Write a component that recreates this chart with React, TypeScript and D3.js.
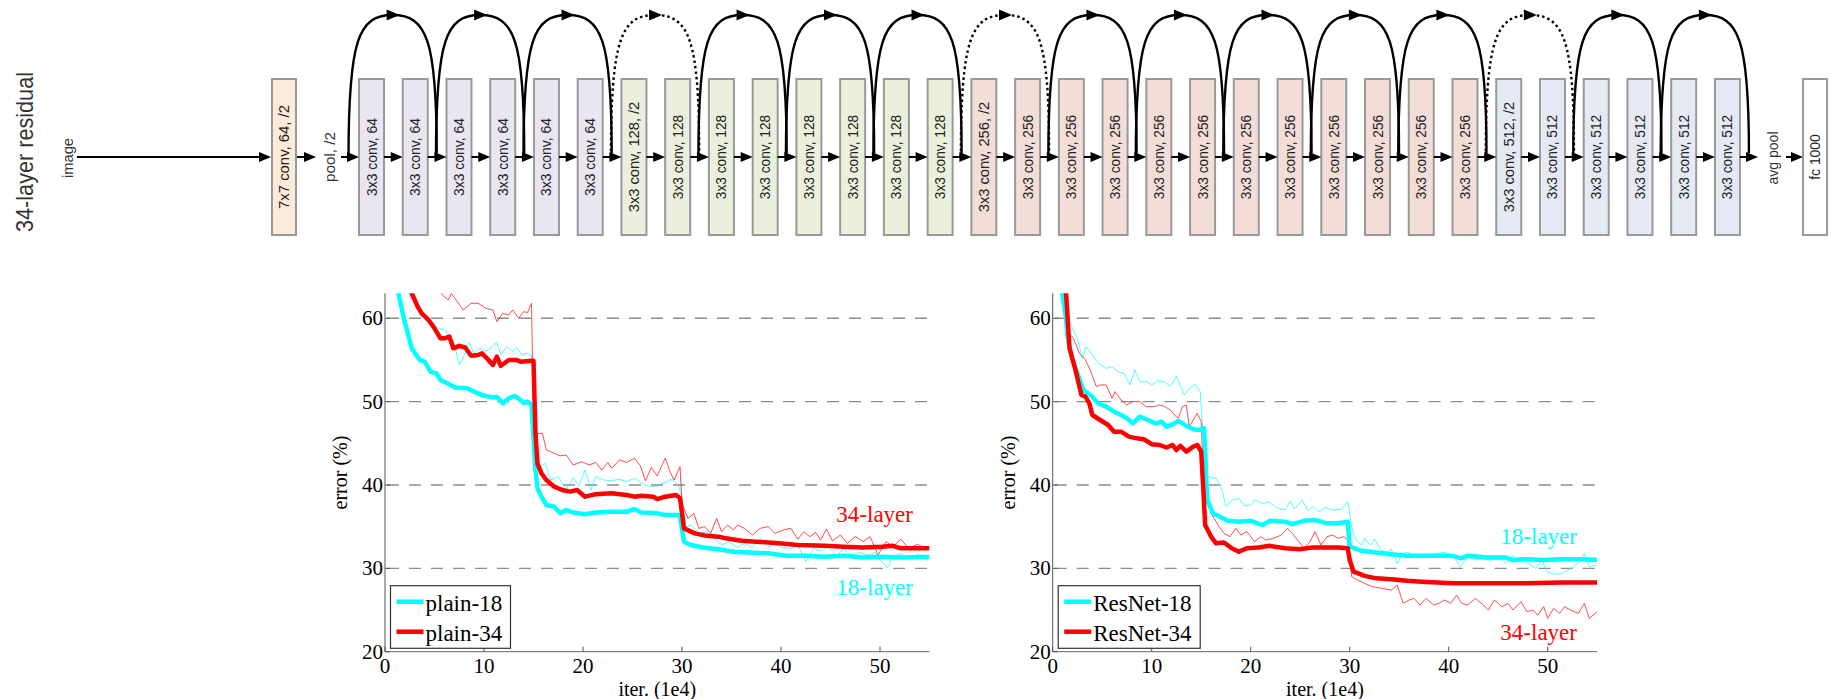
import React from "react";
import * as d3 from "d3";

// ---- network diagram (34-layer residual) ----
const stageFilters = [64, 128, 256, 512];
const stageBlocks = [3, 4, 6, 3]; // residual blocks per stage, 2 convs each
const stageFills = ["#e9e5f1", "#ebf0dc", "#f2ddd7", "#e4e9f4"];

// ---- training curves: x = iter. (1e4), y = error (%) ----
// left panel: plain nets
const plain18Train: [number, number][] = [
  [2.2, 64], [2.5, 62.6], [3.1, 62], [3.8, 60.2], [4.4, 59.4], [5.4, 58.8], [6.0, 58.6], [6.4, 58],
  [6.9, 57.4], [7.5, 54.4], [8.1, 55.8], [8.5, 57.1], [9.0, 55.8], [9.6, 56.4], [10.2, 56], [10.8, 56.6],
  [11.3, 57.1], [11.7, 55.6], [12.3, 56.6], [12.9, 56], [13.3, 56.5], [13.8, 55.6], [14.4, 55.8], [14.8, 55.5],
  [15.0, 50.6], [15.2, 44.2], [15.6, 42.2], [16.2, 42.6], [16.7, 40.6], [17.5, 41], [18.3, 39.4], [19.0, 40.9],
  [19.6, 39.9], [20.2, 41.8], [20.8, 39.4], [21.3, 41], [22.1, 40.6], [22.9, 40.5], [23.7, 40.7], [24.4, 40.4],
  [25.2, 40.8], [26.0, 40.2], [26.7, 39.8], [27.5, 39.9], [28.3, 40.3], [29.0, 40.7], [29.6, 40], [30.0, 38.6],
  [30.4, 35], [30.9, 35.2], [31.7, 34.2], [32.5, 34.4], [33.3, 33.6], [34.0, 32.8], [34.8, 33.2], [35.6, 32.5],
  [36.3, 33], [37.1, 32.5], [37.9, 33.6], [38.7, 32.6], [39.4, 32.9], [40.2, 32.5], [41.0, 32.4], [41.7, 32.8],
  [42.5, 30.8], [43.3, 32.4], [44.0, 32.1], [44.8, 32.6], [45.6, 31.4], [46.3, 32.4], [47.1, 31.5], [47.9, 31.9],
  [48.7, 31.6], [49.5, 31.9], [50.0, 31], [50.8, 30.1], [51.3, 31.4], [52.1, 31.8], [52.9, 31.1], [53.8, 31.7],
  [54.7, 31], [55, 31.2],
];
const plain34Train: [number, number][] = [
  [5.5, 64], [5.8, 62.8], [6.4, 62.2], [6.7, 63], [7.3, 62], [7.9, 61], [8.7, 61.8], [9.4, 61.8],
  [10.2, 61.2], [10.9, 61], [11.3, 59.6], [11.9, 60.6], [12.5, 60.4], [12.9, 61], [13.5, 60], [14.0, 60.8],
  [14.4, 60.7], [14.8, 61.8], [15.0, 48.2], [15.2, 46.2], [15.9, 46.2], [16.3, 44.2], [17.1, 43.8], [17.7, 43.5],
  [18.3, 43.6], [19.0, 42.4], [19.9, 42.8], [20.6, 42.4], [21.3, 42.7], [21.9, 41.8], [22.5, 42.7], [22.9, 42],
  [23.7, 43], [24.4, 42.7], [25.2, 43.2], [25.8, 42.3], [26.3, 40.5], [26.9, 42.1], [27.5, 41.1], [28.3, 43.2],
  [28.8, 41.6], [29.2, 40.6], [29.8, 42.2], [30.0, 37.8], [30.6, 36], [31.2, 36.6], [31.7, 34.8], [32.3, 35],
  [32.9, 34.2], [33.5, 36], [34.0, 34.4], [34.6, 35.2], [35.2, 34.6], [35.6, 35.2], [36.3, 34.8], [37.1, 34],
  [37.9, 34.8], [38.7, 35], [39.4, 34.2], [40.2, 34.6], [41.0, 34.8], [41.7, 33.5], [42.3, 34.4], [42.9, 33.8],
  [43.5, 34.3], [44.0, 33.4], [44.6, 34.7], [45.2, 33.3], [46.0, 34], [46.7, 33], [47.5, 33.8], [48.3, 33.2],
  [49.0, 33.8], [49.8, 31.6], [50.6, 33.2], [51.3, 32.6], [52.1, 33.5], [52.9, 32.4], [53.8, 32.9], [54.7, 32.3],
  [55, 32.6],
];
const plain18Val: [number, number][] = [
  [1.0, 66], [1.35, 63], [1.9, 60], [2.7, 56.4], [3.5, 55], [4.0, 54.8], [4.6, 53.6], [5.2, 53.4],
  [5.6, 52.6], [6.3, 52.2], [7.1, 51.7], [8.3, 51.6], [9.0, 51.2], [10, 50.7], [11, 50.5], [11.3, 50.6],
  [11.9, 49.8], [12.5, 50.4], [13.1, 50.7], [13.7, 50.2], [14.0, 49.8], [14.4, 50], [14.8, 49.6], [15.2, 41.8],
  [15.4, 39.6], [15.8, 38.6], [16.3, 37.6], [17.1, 37.4], [17.7, 36.6], [18.3, 37], [19.0, 36.7], [20.2, 36.5],
  [21.3, 36.7], [22.9, 36.8], [24.4, 36.8], [25.2, 37.1], [25.9, 36.7], [27.5, 36.6], [28.3, 36.4], [29.6, 36.4],
  [29.8, 36.2], [30.2, 33.2], [30.9, 32.8], [32.1, 32.5], [33.7, 32.3], [35.2, 32], [36.7, 31.9], [38.7, 31.8],
  [40.6, 31.5], [42.5, 31.5], [44.4, 31.4], [46.3, 31.5], [48.3, 31.3], [50.2, 31.4], [52.1, 31.3], [55, 31.4],
];
const plain34Val: [number, number][] = [
  [2.4, 66], [2.7, 63], [3.3, 61.4], [3.7, 60.6], [4.4, 59.8], [5.0, 58.8], [5.6, 57.6], [6.0, 57.6],
  [6.5, 57.8], [6.9, 56.4], [7.5, 56.7], [8.1, 56.5], [8.7, 55.5], [9.4, 55.6], [9.8, 55.8], [10.6, 54.8],
  [10.9, 54.4], [11.3, 55.4], [11.7, 54.3], [12.5, 55], [13.3, 55], [13.7, 54.8], [14.8, 54.9], [15.0, 54.9],
  [15.2, 46.2], [15.4, 42.6], [15.8, 41.4], [16.3, 40.6], [17.1, 39.8], [17.9, 39.4], [18.7, 39.2], [19.4, 39.4],
  [20.2, 38.6], [21.3, 38.9], [22.9, 39], [24.4, 38.8], [25.2, 38.6], [25.9, 38.7], [27.1, 38.6], [27.5, 38.3],
  [28.3, 38.6], [29.4, 38.8], [29.8, 38.4], [30.2, 34.8], [31.3, 34.2], [32.5, 33.9], [33.7, 33.8], [34.4, 33.6],
  [36.0, 33.3], [37.5, 33.2], [39.8, 33], [41.7, 32.8], [44.4, 32.7], [46.3, 32.6], [48.3, 32.5], [50.2, 32.6],
  [51.3, 32.7], [52.1, 32.4], [55, 32.4],
];

// right panel: residual nets
const resnet18Train: [number, number][] = [
  [0.7, 64], [1.0, 62], [1.5, 60], [2.0, 58.8], [2.5, 57.5], [3.0, 55.2], [3.4, 56.6], [4.0, 55.6],
  [4.6, 54.6], [5.4, 54], [6.0, 54.2], [6.6, 53.6], [7.2, 53.4], [7.8, 52], [8.3, 53.8], [8.8, 52.4],
  [9.5, 52.4], [10.0, 52], [10.6, 52.5], [11.3, 52.4], [11.9, 51.8], [12.5, 53], [13.3, 50.8], [13.8, 51.6],
  [14.4, 52.1], [14.9, 51.2], [15.2, 46], [15.6, 41], [16.5, 40.8], [17.1, 39.4], [17.5, 37.4], [18.1, 38.2],
  [18.8, 38.4], [19.4, 37.5], [20.0, 37.6], [20.4, 38.2], [21.2, 37.8], [21.9, 38], [22.7, 37.2], [23.5, 37],
  [24.0, 38.1], [24.4, 37.1], [25.2, 38.2], [25.8, 36.9], [26.3, 37.4], [26.9, 36.8], [27.5, 37.3], [28.3, 37],
  [29.2, 37.1], [29.8, 38], [30.2, 35], [30.6, 33.4], [31.2, 32.8], [31.5, 33.6], [32.1, 32.8], [32.5, 33.5],
  [33.1, 32.3], [33.7, 31.8], [34.2, 32.3], [34.8, 30.6], [35.4, 31.8], [36.0, 31.9], [36.5, 31.4], [37.3, 31.7],
  [38.1, 31.5], [38.8, 31.8], [39.6, 31.9], [40.4, 31.5], [41.2, 30.2], [41.9, 31.4], [42.7, 31], [43.5, 31.3],
  [44.2, 30.9], [45.0, 31.4], [45.8, 30.6], [46.5, 31.5], [47.3, 30.8], [48.1, 30.6], [48.8, 30], [49.4, 31],
  [50.0, 29.5], [50.8, 29.3], [51.5, 29.4], [52.3, 30], [53.1, 30.6], [53.7, 31.8], [54.2, 30.2], [55, 30.4],
];
const resnet34Train: [number, number][] = [
  [1.0, 64], [1.15, 63], [1.5, 58.4], [2.1, 57.6], [2.7, 55.8], [3.3, 55], [3.8, 53.8], [4.4, 51.8],
  [4.8, 52], [5.4, 52], [6.0, 50.4], [6.3, 51.2], [6.9, 50.2], [7.5, 49.6], [8.1, 50], [8.8, 50],
  [9.4, 49.4], [10.2, 49.4], [10.8, 49.6], [11.3, 49.4], [11.9, 49], [12.3, 48.4], [12.7, 48], [13.1, 49.4],
  [13.5, 49.6], [13.8, 47], [14.2, 47.8], [14.6, 48.6], [15.0, 47.6], [15.2, 41.8], [15.6, 37.8], [16.2, 36.2],
  [16.7, 35.2], [17.3, 34.2], [17.9, 33.8], [18.5, 34.8], [19.0, 34], [19.6, 34.4], [20.4, 33.2], [21.0, 33.8],
  [21.5, 33.4], [22.3, 33.6], [23.1, 34], [23.7, 34.8], [24.2, 34.2], [24.8, 33.3], [25.4, 32.4], [26.0, 33.2],
  [26.5, 34.4], [27.1, 32.8], [27.7, 33.8], [28.3, 34], [28.8, 33.6], [29.4, 33.8], [29.8, 33.4], [30.2, 29],
  [30.8, 28.6], [31.5, 28.2], [32.3, 27.8], [33.3, 27.6], [34.2, 27.4], [34.8, 28], [35.4, 25.8], [36.0, 26.2],
  [36.5, 26.4], [37.1, 25.6], [37.7, 26.4], [38.5, 25.6], [39.0, 25.8], [39.6, 26.2], [40.2, 25.8], [40.8, 26.8],
  [41.3, 25.8], [41.9, 25.6], [42.7, 26.4], [43.5, 25.6], [44.0, 25], [44.6, 26.2], [45.4, 25.4], [46.0, 25.8],
  [46.5, 25], [47.3, 26], [47.9, 24.8], [48.5, 25], [49.0, 24.4], [49.6, 25.4], [50.0, 24], [50.6, 25.2],
  [51.2, 24.6], [51.7, 25.4], [52.3, 25], [53.1, 24.6], [53.7, 25.8], [54.2, 24], [55, 24.8],
];
const resnet18Val: [number, number][] = [
  [0.7, 66], [0.96, 63], [1.35, 60], [1.5, 57.8], [1.9, 55.4], [2.5, 53.4], [3.1, 51.4], [3.8, 50.8],
  [4.6, 49.8], [5.4, 49.4], [6.2, 48.8], [6.9, 48.4], [7.5, 48], [8.1, 47.4], [8.8, 48.2], [9.6, 47.8],
  [10.4, 47.4], [11.0, 47.6], [11.5, 47], [12.3, 47.4], [12.7, 47.7], [13.5, 47.1], [14.2, 46.7], [14.8, 46.6],
  [15.3, 46.8], [15.6, 38.2], [16.2, 36.6], [16.9, 36.2], [17.7, 35.7], [18.8, 35.6], [20, 35.7], [21.2, 35.2],
  [21.9, 35.7], [23.5, 35.6], [24.2, 35.3], [25.4, 35.7], [26.5, 35.8], [27.7, 35.4], [28.8, 35.4], [29.8, 35.6],
  [30.0, 32.6], [31.2, 32.1], [32.7, 31.9], [34.2, 31.7], [35.8, 31.5], [37.3, 31.5], [38.8, 31.5], [40.4, 31.5],
  [41.2, 31.2], [41.9, 31.5], [43.8, 31.3], [45.8, 31.3], [46.5, 31], [47.7, 31.1], [49.6, 31], [51.5, 31.1],
  [53.5, 31.1], [55, 31],
];
const resnet34Val: [number, number][] = [
  [1.1, 66], [1.35, 63], [1.7, 56.4], [2.3, 53.8], [2.9, 50.8], [3.3, 50.6], [3.7, 49.8], [4.0, 48.4],
  [4.8, 47.8], [5.6, 47.2], [6.2, 46.4], [6.9, 46.4], [7.7, 45.8], [8.5, 45.6], [9.2, 45.5], [10.0, 44.9],
  [10.8, 44.8], [11.5, 44.5], [12.1, 44.8], [12.5, 44.2], [12.9, 44.7], [13.5, 44], [14.2, 44.6], [14.6, 44.8],
  [15.0, 44], [15.2, 39.8], [15.4, 35.2], [16.0, 33.8], [16.5, 33], [17.3, 33.1], [18.1, 32.4], [18.8, 32],
  [19.6, 32.4], [20.8, 32.5], [21.9, 32.7], [23.5, 32.4], [25.0, 32.3], [26.2, 32.5], [27.7, 32.5], [28.8, 32.5],
  [29.8, 32.4], [30.0, 31], [30.4, 29.6], [31.5, 29.1], [32.7, 28.8], [34.2, 28.7], [35.8, 28.5], [37.3, 28.4],
  [38.8, 28.3], [40.4, 28.2], [43.8, 28.2], [47.7, 28.2], [51.5, 28.3], [55, 28.3],
];

const xTicks = [0, 10, 20, 30, 40, 50];
const yTicks = [20, 30, 40, 50, 60];
const xDomain: [number, number] = [0, 55];
const yDomain: [number, number] = [20, 63];

const CYAN = "#00ffff";
const RED = "#ff0000";
const SERIF = "'Liberation Serif', 'Times New Roman', serif";
const SANS = "'Liberation Sans', Arial, sans-serif";

const BOX_Y = 79;
const BOX_H = 156;
const MID_Y = 157;

const Arrow = ({ x1, x2 }: { x1: number; x2: number }) => (
  <g>
    <line x1={x1} y1={MID_Y} x2={x2 - 8} y2={MID_Y} stroke="#000" strokeWidth={2} />
    <polygon points={`${x2},${MID_Y} ${x2 - 12},${MID_Y - 5} ${x2 - 12},${MID_Y + 5}`} fill="#000" />
  </g>
);

// vertical label; the length is fixed so it fills the box like the original
const RotText = ({ x, y, t, size, len, color = "#222" }: { x: number; y: number; t: string; size: number; len: number; color?: string }) => (
  <text
    transform={`translate(${x},${y}) rotate(-90)`}
    textAnchor="middle"
    dominantBaseline="central"
    fontFamily={SANS}
    fontSize={size}
    textLength={len}
    lengthAdjust="spacingAndGlyphs"
    fill={color}
  >
    {t}
  </text>
);

const Box = ({ x, w, fill, label }: { x: number; w: number; fill: string; label: string }) => (
  <g>
    <rect x={x} y={BOX_Y} width={w} height={BOX_H} fill={fill} stroke="#999" strokeWidth={2} />
    <RotText x={x + w / 2} y={MID_Y} t={label} size={14} len={label.length * 6.5} />
  </g>
);

const Diagram = () => {
  const convs: { label: string; fill: string }[] = [];
  stageFilters.forEach((f, s) => {
    for (let i = 0; i < stageBlocks[s] * 2; i++) {
      const down = s > 0 && i === 0;
      convs.push({ label: `3x3 conv, ${f}${down ? ", /2" : ""}`, fill: stageFills[s] });
    }
  });
  const x0 = 359;
  const pitch = 43.74;
  const bw = 25;
  const bx = (i: number) => x0 + i * pitch;
  const lastEnd = bx(convs.length - 1) + bw;

  // shortcut arcs that change dimension are dotted
  const dotted = new Set<number>();
  let acc = 0;
  stageBlocks.forEach((b, s) => {
    if (s > 0) dotted.add(acc);
    acc += b;
  });
  const nPairs = acc;

  return (
    <g>
      <RotText x={24} y={152} t="34-layer residual" size={24} len={160} color="#333" />
      <RotText x={68} y={158} t="image" size={14} len={40} color="#333" />
      <Arrow x1={77} x2={271} />
      <Box x={272} w={24} fill="#fcebd9" label="7x7 conv, 64, /2" />
      <Arrow x1={297} x2={316} />
      <RotText x={330} y={157} t="pool, /2" size={14} len={50} color="#333" />
      <Arrow x1={341} x2={x0} />
      {convs.map((c, i) => (
        <Box key={i} x={bx(i)} w={bw} fill={c.fill} label={c.label} />
      ))}
      {convs.slice(1).map((_, i) => (
        <Arrow key={i} x1={bx(i) + bw} x2={bx(i + 1)} />
      ))}
      <Arrow x1={lastEnd} x2={1758} />
      <RotText x={1773} y={158} t="avg pool" size={14} len={53} color="#333" />
      <Arrow x1={1786} x2={1803} />
      <Box x={1803} w={24} fill="#ffffff" label="fc 1000" />
      {d3.range(nPairs).map((k) => {
        const a = bx(2 * k) - 10.5;
        const b = bx(2 * k + 1) + bw + 9;
        const m = (a + b) / 2;
        const top = 15;
        const p = `M${a},${MID_Y} C${a},40 ${a + 10},${top} ${m},${top} C${b - 10},${top} ${b},40 ${b},${MID_Y - 4}`;
        return (
          <g key={k}>
            <path
              d={p}
              fill="none"
              stroke="#000"
              strokeWidth={2.4}
              strokeDasharray={dotted.has(k) ? "2.5,3" : undefined}
            />
            <polygon points={`${m + 7},${top} ${m - 6},${top - 5.5} ${m - 6},${top + 5.5}`} fill="#000" />
          </g>
        );
      })}
    </g>
  );
};

type Series = { data: [number, number][]; color: string; width: number; opacity: number };

const Panel = ({
  id,
  x0,
  series,
  legend,
  legendW,
  notes,
}: {
  id: string;
  x0: number;
  series: Series[];
  legend: { name: string; color: string }[];
  legendW: number;
  notes: { text: string; color: string; x: number; y: number }[];
}) => {
  const x = d3.scaleLinear().domain(xDomain).range([x0, x0 + 544.5]);
  const y = d3.scaleLinear().domain(yDomain).range([651.7, 293.3]);
  const line = d3
    .line<[number, number]>()
    .x((d) => x(d[0]))
    .y((d) => y(d[1]));
  const [xl, xr] = x.range();
  const [yb, yt] = y.range();
  const lx = xl + 5.5;
  const ly = 585.7;

  return (
    <g>
      <defs>
        <clipPath id={id}>
          <rect x={xl} y={yt} width={xr - xl} height={yb - yt} />
        </clipPath>
      </defs>
      {yTicks
        .filter((v) => v > 20)
        .map((v) => (
          <line
            key={v}
            x1={xl + 2}
            x2={xr}
            y1={y(v)}
            y2={y(v)}
            stroke="#8c8c8c"
            strokeWidth={1.4}
            strokeDasharray="12,10"
          />
        ))}
      <line x1={xl} x2={xr} y1={yb} y2={yb} stroke="#666" strokeWidth={1} />
      <line x1={xl} x2={xl} y1={yt} y2={yb} stroke="#555" strokeWidth={1} />
      {xTicks.map((v) => (
        <g key={v}>
          <line x1={x(v)} x2={x(v)} y1={yb} y2={yb - 5} stroke="#555" />
          <text x={x(v)} y={673} textAnchor="middle" fontFamily={SERIF} fontSize={21} fill="#000">
            {v}
          </text>
        </g>
      ))}
      {yTicks.map((v) => (
        <g key={v}>
          <line x1={xl} x2={xl + 5} y1={y(v)} y2={y(v)} stroke="#555" />
          <text x={xl - 2} y={y(v) + 7} textAnchor="end" fontFamily={SERIF} fontSize={21} fill="#000">
            {v}
          </text>
        </g>
      ))}
      <text x={(xl + xr) / 2} y={696} textAnchor="middle" fontFamily={SERIF} fontSize={20} fill="#000">
        iter. (1e4)
      </text>
      <text
        transform={`translate(${xl - 38},${(yt + yb) / 2}) rotate(-90)`}
        textAnchor="middle"
        fontFamily={SERIF}
        fontSize={20}
        fill="#000"
      >
        error (%)
      </text>
      <g clipPath={`url(#${id})`}>
        {series.map((s, i) => (
          <path
            key={i}
            d={line(s.data) || ""}
            fill="none"
            stroke={s.color}
            strokeWidth={s.width}
            strokeOpacity={s.opacity}
            strokeLinejoin="round"
          />
        ))}
      </g>
      {notes.map((n, i) => (
        <text key={i} x={n.x} y={n.y} textAnchor="end" fontFamily={SERIF} fontSize={23} fill={n.color}>
          {n.text}
        </text>
      ))}
      <rect x={lx} y={ly} width={legendW} height={62.6} fill="#fff" stroke="#333" strokeWidth={1.2} />
      {legend.map((l, i) => (
        <g key={l.name}>
          <line
            x1={lx + 6}
            x2={lx + 33}
            y1={ly + 16 + i * 30}
            y2={ly + 16 + i * 30}
            stroke={l.color}
            strokeWidth={4.5}
          />
          <text x={lx + 35} y={ly + 25 + i * 30} fontFamily={SERIF} fontSize={23} fill="#000">
            {l.name}
          </text>
        </g>
      ))}
    </g>
  );
};

const thin = (data: [number, number][], color: string): Series => ({ data, color, width: 1, opacity: 0.7 });
const bold = (data: [number, number][], color: string): Series => ({ data, color, width: 4.5, opacity: 1 });

export default function App() {
  return (
    <svg
      width={1831}
      height={699}
      viewBox="0 0 1831 699"
      style={{ position: "absolute", left: 0, top: 0, background: "#fff" }}
    >
      <rect width={1831} height={699} fill="#fff" />
      <Diagram />
      <Panel
        id="clipPlain"
        x0={385}
        series={[
          thin(plain18Train, CYAN),
          thin(plain34Train, RED),
          bold(plain18Val, CYAN),
          bold(plain34Val, RED),
        ]}
        legend={[
          { name: "plain-18", color: CYAN },
          { name: "plain-34", color: RED },
        ]}
        legendW={120}
        notes={[
          { text: "34-layer", color: RED, x: 913, y: 522 },
          { text: "18-layer", color: CYAN, x: 913, y: 595 },
        ]}
      />
      <Panel
        id="clipRes"
        x0={1052.7}
        series={[
          thin(resnet18Train, CYAN),
          thin(resnet34Train, RED),
          bold(resnet18Val, CYAN),
          bold(resnet34Val, RED),
        ]}
        legend={[
          { name: "ResNet-18", color: CYAN },
          { name: "ResNet-34", color: RED },
        ]}
        legendW={142}
        notes={[
          { text: "18-layer", color: CYAN, x: 1577, y: 544 },
          { text: "34-layer", color: RED, x: 1577, y: 640 },
        ]}
      />
    </svg>
  );
}
